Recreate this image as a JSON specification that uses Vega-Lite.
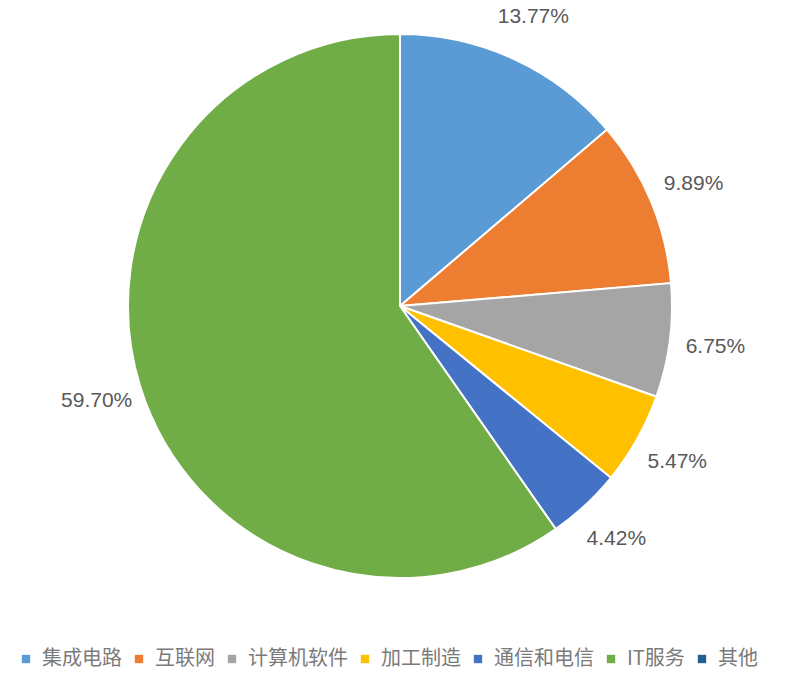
{
  "$schema": "https://vega.github.io/schema/vega-lite/v6.json",
  "width": 800,
  "height": 688,
  "autosize": {"type": "none"},
  "padding": 0,
  "background": "white",
  "data": {"values": [
    {"i": 1, "category": "集成电路", "share": 0.1377},
    {"i": 2, "category": "互联网", "share": 0.0989},
    {"i": 3, "category": "计算机软件", "share": 0.0675},
    {"i": 4, "category": "加工制造", "share": 0.0547},
    {"i": 5, "category": "通信和电信", "share": 0.0442},
    {"i": 6, "category": "IT服务", "share": 0.5970},
    {"i": 7, "category": "其他", "share": 0.0}
  ]},
  "encoding": {
    "theta": {"field": "share", "type": "quantitative", "stack": true},
    "order": {"field": "i", "type": "quantitative"},
    "color": {
      "field": "category", "type": "nominal",
      "scale": {
        "domain": ["集成电路", "互联网", "计算机软件", "加工制造", "通信和电信", "IT服务", "其他"],
        "range": ["#5B9BD5", "#ED7D31", "#A5A5A5", "#FFC000", "#4472C4", "#70AD47", "#255E91"]
      },
      "legend": {
        "title": null,
        "orient": "none",
        "direction": "horizontal",
        "columns": 7,
        "legendX": 16,
        "legendY": 649,
        "symbolType": "square",
        "symbolSize": 70,
        "symbolStrokeWidth": 0,
        "labelFont": "Noto Sans CJK SC",
        "labelFontSize": 20,
        "labelColor": "#7a7a7a",
        "labelOffset": 6,
        "columnPadding": 7,
        "labelLimit": 200
      }
    }
  },
  "layer": [
    {
      "mark": {"type": "arc", "outerRadius": 272, "x": 400, "y": 306, "stroke": "white", "strokeWidth": 2}
    },
    {
      "transform": [{"filter": "datum.share > 0"}],
      "mark": {"type": "text", "radius": 318, "x": 400, "y": 306, "font": "Liberation Sans", "fontSize": 21, "fill": "#595959"},
      "encoding": {
        "text": {"field": "share", "type": "quantitative", "format": ".2%"},
        "color": {"value": "#595959"}
      }
    }
  ],
  "config": {"view": {"stroke": null}}
}
